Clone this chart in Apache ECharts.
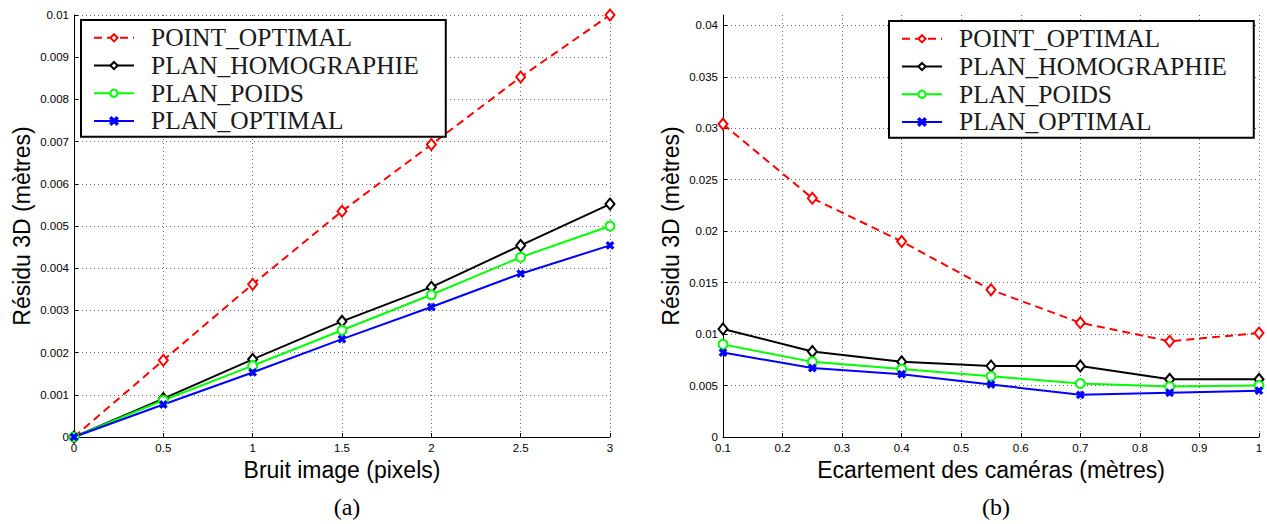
<!DOCTYPE html>
<html>
<head>
<meta charset="utf-8">
<script src="https://cdn.jsdelivr.net/npm/echarts@6/dist/echarts.min.js"></script>
<style>
  html, body { margin: 0; padding: 0; background: #fff; }
  #chart { width: 1267px; height: 524px; }
</style>
</head>
<body>
<div id="chart"></div>
<script>
// (a) Bruit image (pixels) vs residu 3D
const bruit = [0, 0.5, 1, 1.5, 2, 2.5, 3];
const aPointOptimal = [0, 0.00182, 0.00362, 0.00535, 0.00693, 0.00853, 0.0100];
const aPlanHomographie = [0, 0.00091, 0.00184, 0.00274, 0.00355, 0.00454, 0.00552];
const aPlanPoids = [0, 0.00087, 0.00169, 0.00253, 0.00337, 0.00426, 0.00500];
const aPlanOptimal = [0, 0.00077, 0.00153, 0.00232, 0.00308, 0.00387, 0.00454];

// (b) Ecartement des cameras (metres) vs residu 3D
const ecartement = [0.1, 0.25, 0.4, 0.55, 0.7, 0.85, 1.0];
const bPointOptimal = [0.0304, 0.0232, 0.0190, 0.0143, 0.0111, 0.0093, 0.0101];
const bPlanHomographie = [0.0105, 0.0083, 0.0073, 0.0069, 0.0069, 0.0056, 0.0056];
const bPlanPoids = [0.0090, 0.0073, 0.0066, 0.0059, 0.0052, 0.0049, 0.0050];
const bPlanOptimal = [0.0082, 0.0067, 0.0061, 0.0051, 0.0041, 0.0043, 0.0045];

const names = ['POINT_OPTIMAL', 'PLAN_HOMOGRAPHIE', 'PLAN_POIDS', 'PLAN_OPTIMAL'];
const captions = ['(a)', '(b)'];
const xTitles = ['Bruit image (pixels)', 'Ecartement des caméras (mètres)'];
const yTitle = 'Résidu 3D (mètres)';

// matlab-like marker styles, one per series name
const markerPath = 'path://M0,1.5L1.5,0L5,3.5L8.5,0L10,1.5L6.5,5L10,8.5L8.5,10L5,6.5L1.5,10L0,8.5L3.5,5Z';
const styles = [
  { color: '#ff0000', symbol: 'emptyDiamond', size: [9, 11], dash: [8, 5] },
  { color: '#000000', symbol: 'emptyDiamond', size: [9, 11], dash: 'solid' },
  { color: '#00ff00', symbol: 'emptyCircle', size: 9, dash: 'solid' },
  { color: '#0000ff', symbol: markerPath, size: 6, dash: 'solid' },
];

const SANS = 'Liberation Sans';
const SERIF = 'Liberation Serif';

const makeSeries = (xs, ys, idx, axisIndex) => ({
  name: names[idx],
  type: 'line',
  xAxisIndex: axisIndex,
  yAxisIndex: axisIndex,
  data: xs.map((x, i) => [x, ys[i]]),
  symbol: styles[idx].symbol,
  symbolSize: styles[idx].size,
  showAllSymbol: true,
  animation: false,
  lineStyle: { color: styles[idx].color, width: 2, type: styles[idx].dash },
  itemStyle: { color: styles[idx].color, borderColor: styles[idx].color, borderWidth: 2 },
  emphasis: { disabled: true },
});

const gridDots = { show: true, lineStyle: { color: '#666', width: 1, type: [1, 3] } };

const xAxisBase = (gridIndex, min, max, interval) => ({
  type: 'value',
  gridIndex,
  min, max, interval,
  name: xTitles[gridIndex],
  nameLocation: 'middle',
  nameGap: 19,
  nameTextStyle: { fontFamily: SANS, fontSize: 23, color: '#000' },
  axisLine: { show: true, onZero: false, lineStyle: { color: '#000', width: 1 } },
  axisTick: { show: true, inside: true, length: 4, lineStyle: { color: '#000' } },
  axisLabel: { fontFamily: SANS, fontSize: 11.5, color: '#000', margin: 5 },
  splitLine: gridDots,
});

const yAxisBase = (gridIndex, max, interval) => ({
  type: 'value',
  gridIndex,
  min: 0, max, interval,
  name: yTitle,
  nameLocation: 'middle',
  nameGap: 41,
  nameTextStyle: { fontFamily: SANS, fontSize: 23, color: '#000' },
  axisLine: { show: true, onZero: false, lineStyle: { color: '#000', width: 1 } },
  axisTick: { show: true, inside: true, length: 4, lineStyle: { color: '#000' } },
  axisLabel: { fontFamily: SANS, fontSize: 11.5, color: '#000', margin: 5, showMaxLabel: max === 0.01 },
  splitLine: Object.assign({ showMaxLine: max === 0.01 }, gridDots),
});

const legendBase = (left, top) => ({
  data: names,
  orient: 'vertical',
  left, top,
  itemWidth: 40,
  itemHeight: 9,
  itemGap: 0,
  selectedMode: false,
  backgroundColor: '#fff',
  borderColor: '#000',
  borderWidth: 2,
  padding: [4, 27, 2, 12],
  textStyle: { fontFamily: SERIF, fontSize: 25.5, color: '#1a1a1a', lineHeight: 27.7, padding: [0, 0, 0, 12] },
});

const chart = echarts.init(document.getElementById('chart'), null, { renderer: 'svg' });

chart.setOption({
  animation: false,
  backgroundColor: '#fff',
  title: [
    { text: captions[0], left: 342, top: 490, textAlign: 'center',
      textStyle: { fontFamily: SERIF, fontSize: 24, fontWeight: 'normal', color: '#000' } },
    { text: captions[1], left: 991, top: 490, textAlign: 'center',
      textStyle: { fontFamily: SERIF, fontSize: 24, fontWeight: 'normal', color: '#000' } },
  ],
  grid: [
    { left: 74, top: 15, width: 536, height: 422 },
    { left: 723, top: 15, width: 536, height: 422 },
  ],
  xAxis: [
    xAxisBase(0, 0, 3, 0.5),
    xAxisBase(1, 0.1, 1, 0.1),
  ],
  yAxis: [
    yAxisBase(0, 0.01, 0.001),
    yAxisBase(1, 0.041, 0.005),
  ],
  legend: [
    legendBase(81, 20),
    legendBase(889, 21),
  ],
  series: [
    makeSeries(bruit, aPointOptimal, 0, 0),
    makeSeries(bruit, aPlanHomographie, 1, 0),
    makeSeries(bruit, aPlanPoids, 2, 0),
    makeSeries(bruit, aPlanOptimal, 3, 0),
    makeSeries(ecartement, bPointOptimal, 0, 1),
    makeSeries(ecartement, bPlanHomographie, 1, 1),
    makeSeries(ecartement, bPlanPoids, 2, 1),
    makeSeries(ecartement, bPlanOptimal, 3, 1),
  ],
});
</script>
</body>
</html>
